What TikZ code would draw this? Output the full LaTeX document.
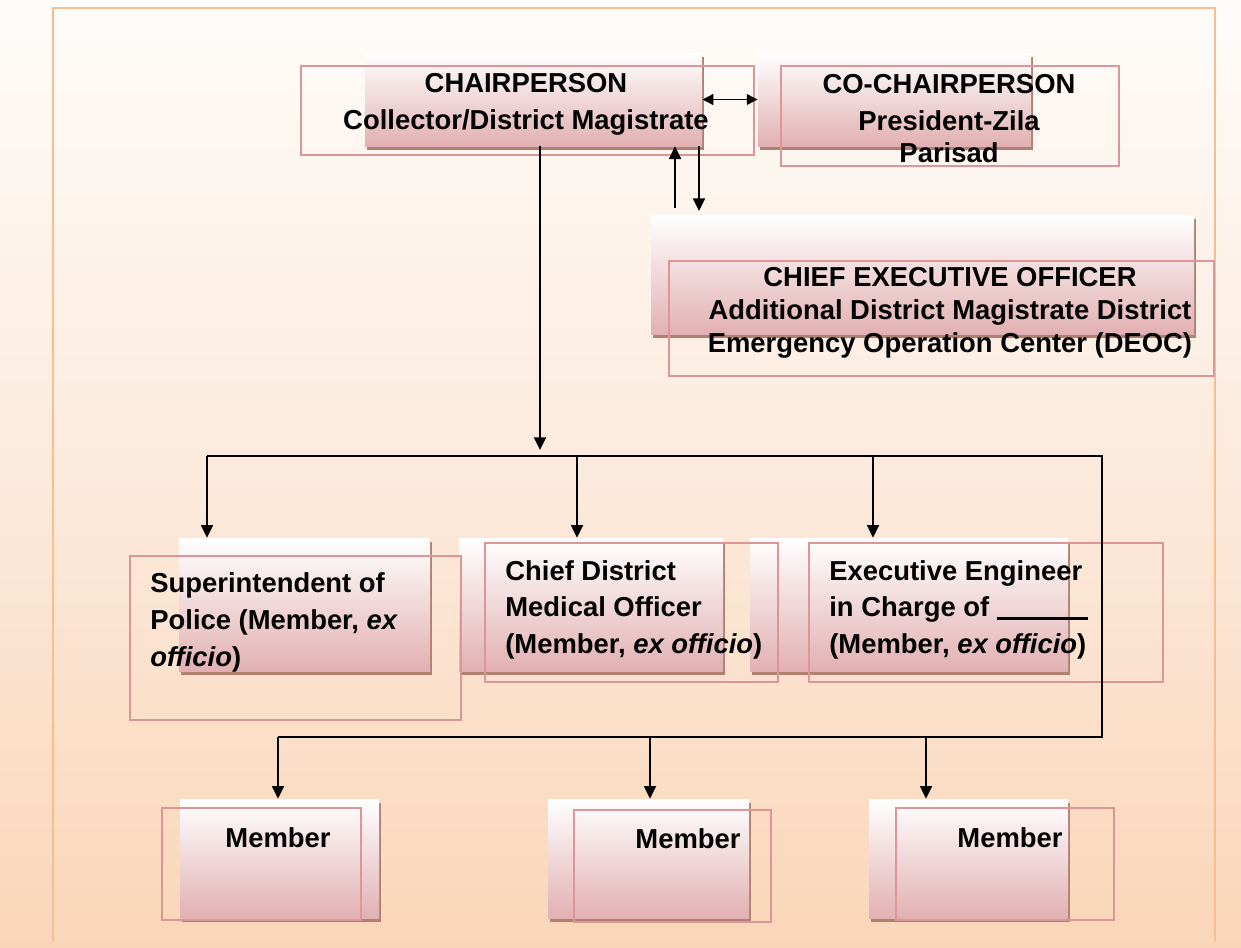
\documentclass[tikz,border=0pt]{standalone}
\usepackage{fontspec}
\setmainfont{Liberation Sans}
\usepackage{tikz}
\usetikzlibrary{positioning,fit,shadows,arrows.meta}
\definecolor{bgtop}{RGB}{254,252,250}
\definecolor{bgmid}{RGB}{252,234,220}
\definecolor{bgbot}{RGB}{250,214,185}
\definecolor{frameorange}{RGB}{249,190,143}
\definecolor{boxpink}{RGB}{226,176,178}
\definecolor{olpink}{RGB}{221,150,152}
\definecolor{shadowbrown}{RGB}{176,128,112}

\begin{document}
\begin{tikzpicture}[x=0.02cm, y=-0.02cm,
    shbox/.style={inner sep=0pt, top color=white, bottom color=boxpink, middle color=boxpink!50!white,
      drop shadow={shadow xshift=0.04cm, shadow yshift=-0.08cm, fill=shadowbrown, opacity=1}},
    olbox/.style={inner sep=0pt, draw=olpink, line width=1.5pt},
    lbl/.style={inner sep=0pt, font=\bfseries\fontsize{15.6}{20.5}\selectfont},
    conn/.style={line width=1.1pt},
    arr/.style={conn, -{Triangle[length=7.2pt,width=6.8pt]}},
    dblarr/.style={conn, {Triangle[length=6.2pt,width=6pt]}-{Triangle[length=6.2pt,width=6pt]}}]
  \useasboundingbox (0,0) rectangle (1241,947);
  \shade[top color=bgtop, bottom color=bgbot, middle color=bgmid] (0,0) rectangle (1241,947);
  \draw[frameorange, line width=1.5pt] (53,942) -- (53,8) -- (1215,8) -- (1215,942);

  \node[shbox, fit={(365,53) (702,146)}] (chair) {};
  \node[shbox, fit={(758,53) (1031,146)}] (cochair) {};
  \node[shbox, fit={(651,215) (1194,334)}] (ceo) {};
  \node[shbox, fit={(179,538) (430,671)}] (spol) {};
  \node[shbox, fit={(459,538) (723,671)}] (cdmo) {};
  \node[shbox, fit={(750,538) (1068,671)}] (exeng) {};
  \node[shbox, fit={(180,799) (379,918)}] (mema) {};
  \node[shbox, fit={(548,799) (749,918)}] (memb) {};
  \node[shbox, fit={(869,799) (1068,918)}] (memc) {};

  \node[olbox, fit={(301,66) (754,155)}] (chairol) {};
  \node[olbox, fit={(781,66) (1119,166)}] (cochairol) {};
  \node[olbox, fit={(669,261) (1214,376)}] (ceool) {};
  \node[olbox, fit={(130,556) (461,720)}] (spolol) {};
  \node[olbox, fit={(485,543) (778,682)}] (cdmool) {};
  \node[olbox, fit={(809,543) (1163,682)}] (exengol) {};
  \node[olbox, fit={(162,808) (361,920)}] (memaol) {};
  \node[olbox, fit={(574,810) (771,922)}] (membol) {};
  \node[olbox, fit={(896,808) (1114,920)}] (memcol) {};

  \node[lbl, anchor=base, align=center] (chairtx) at (526,129) {CHAIRPERSON\\Collector/District Magistrate};
  \node[lbl, anchor=base, align=center, font=\bfseries\fontsize{15.6}{21}\selectfont] (cochairtx) at (949,162)
    {CO-CHAIRPERSON\\President-Zila\\[-2.8pt]Parisad};
  \node[lbl, anchor=base, align=center, font=\bfseries\fontsize{15.6}{18.5}\selectfont] (ceotx) at (950,352)
    {CHIEF EXECUTIVE OFFICER\\Additional District Magistrate District\\Emergency Operation Center (DEOC)};
  \node[lbl, anchor=base west, align=left, font=\bfseries\fontsize{15.6}{20.9}\selectfont] (spoltx) at (150,666)
    {Superintendent of\\Police (Member, \textit{ex}\\\textit{officio})};
  \node[lbl, anchor=base west, align=left] (cdmotx) at (505,653)
    {Chief District\\Medical Officer\\(Member, \textit{ex officio})};
  \node[lbl, anchor=base west, align=left] (exengtx) at (829,653)
    {Executive Engineer\\in Charge of \rule[-1.5pt]{51.8pt}{1.7pt}\\(Member, \textit{ex officio})};
  \node[lbl, anchor=base] (rowatx) at (278,847) {Member};
  \node[lbl, anchor=base] (rowbtx) at (688,848) {Member};
  \node[lbl, anchor=base] (rowctx) at (1010,847) {Member};

  \coordinate (trunk) at (540,450);
  \coordinate (busl) at (207,456);
  \coordinate (busr) at (1102,456);
  \coordinate (busc) at (577,456);
  \coordinate (buse) at (873,456);
  \coordinate (lowr) at (1102,737);
  \coordinate (lowl) at (278,737);
  \coordinate (lowc) at (650,737);
  \coordinate (lowe) at (926,737);
  \coordinate (ceoup) at (675,208);
  \coordinate (ceodn) at (699,211);

  \draw[dblarr] (chair.east) -- (cochair.west);
  \draw[arr] (ceoup) -- (ceoup |- chair.south);
  \draw[arr] (chair.south -| ceodn) -- (ceodn);
  \draw[arr] (chair.south -| trunk) -- (trunk);
  \draw[conn] (busl) -- (busr) -- (lowr) -- (lowl);
  \draw[arr] (busl) -- (busl |- spol.north);
  \draw[arr] (busc) -- (busc |- cdmo.north);
  \draw[arr] (buse) -- (buse |- exeng.north);
  \draw[arr] (lowl) -- (lowl |- mema.north);
  \draw[arr] (lowc) -- (lowc |- memb.north);
  \draw[arr] (lowe) -- (lowe |- memc.north);
\end{tikzpicture}
\end{document}
